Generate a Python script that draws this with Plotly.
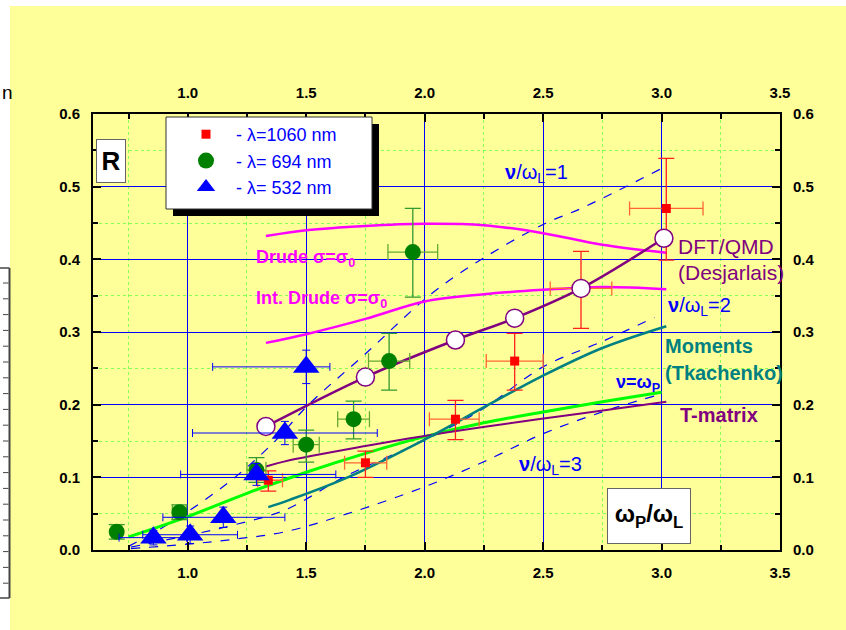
import plotly.graph_objects as go

# ---------------- data ----------------
# experimental reflectivity, lambda = 1060 nm (red squares)
x_1060 = [1.34, 1.75, 2.13, 2.38, 2.66, 3.02]
y_1060 = [0.096, 0.12, 0.18, 0.26, 0.36, 0.47]
xe_1060_p = [0.06, 0.09, 0.10, 0.12, 0.13, 0.155]
xe_1060_m = [0.045, 0.088, 0.11, 0.12, 0.13, 0.155]
ye_1060_p = [0.013, 0.016, 0.026, 0.038, 0.051, 0.069]
ye_1060_m = [0.015, 0.02, 0.028, 0.04, 0.055, 0.071]

# lambda = 694 nm (green circles)
x_694 = [0.70, 0.965, 1.29, 1.50, 1.70, 1.85, 1.95]
y_694 = [0.025, 0.052, 0.11, 0.145, 0.18, 0.26, 0.41]
xe_694 = [0.02, 0.03, 0.04, 0.055, 0.067, 0.087, 0.105]
ye_694_p = [0.01, 0.01, 0.017, 0.02, 0.025, 0.038, 0.06]
ye_694_m = [0.01, 0.01, 0.017, 0.024, 0.027, 0.04, 0.062]

# lambda = 532 nm (blue triangles)
x_532 = [0.855, 1.01, 1.15, 1.29, 1.41, 1.50]
y_532 = [0.017, 0.021, 0.045, 0.104, 0.161, 0.252]
xe_532_p = [0.14, 0.20, 0.26, 0.335, 0.39, 0.10]
xe_532_m = [0.145, 0.20, 0.255, 0.32, 0.39, 0.395]
ye_532 = [0.01, 0.012, 0.014, 0.015, 0.016, 0.023]

# DFT/QMD (Desjarlais)
x_dft = [1.33, 1.75, 2.13, 2.38, 2.66, 3.01]
y_dft = [0.17, 0.238, 0.289, 0.319, 0.36, 0.429]

# Drude sigma = sigma0
x_drude = [1.33, 1.5, 1.75, 2.0, 2.25, 2.5, 2.75, 3.02]
y_drude = [0.432, 0.44, 0.446, 0.449, 0.447, 0.436, 0.42, 0.409]

# Interpolated Drude sigma = sigma0
x_idrude = [1.33, 1.5, 1.75, 2.0, 2.25, 2.5, 2.75, 3.02]
y_idrude = [0.285, 0.297, 0.318, 0.342, 0.352, 0.358, 0.362, 0.359]

# Moments (Tkachenko)
x_mom = [1.34, 1.43, 1.675, 2.0, 2.27, 2.5, 2.75, 3.02]
y_mom = [0.059, 0.069, 0.1, 0.152, 0.2, 0.24, 0.278, 0.308]

# T-matrix
x_tm = [1.33, 1.41, 1.75, 2.0, 2.24, 2.66, 3.02]
y_tm = [0.115, 0.122, 0.143, 0.157, 0.169, 0.188, 0.204]

# nu = omega_P (green line)
x_green = [0.75, 1.0, 1.25, 1.5, 1.75, 2.0, 2.25, 2.5, 2.75, 3.0]
y_green = [0.018, 0.046, 0.078, 0.107, 0.133, 0.156, 0.175, 0.19, 0.204, 0.217]

# nu/omega_L = 1, 2, 3 (dashed)
x_nu1 = [0.75, 0.94, 1.18, 1.36, 1.51, 1.75, 2.03, 2.24, 2.5, 2.66, 3.0]
y_nu1 = [0.005, 0.04, 0.095, 0.147, 0.2, 0.27, 0.353, 0.40, 0.448, 0.47, 0.525]
x_nu2 = [0.76, 1.0, 1.2, 1.41, 1.675, 2.0, 2.24, 2.5, 2.75, 2.97]
y_nu2 = [0.004, 0.02, 0.035, 0.055, 0.103, 0.151, 0.193, 0.252, 0.287, 0.32]
x_nu3 = [0.76, 1.0, 1.2, 1.41, 1.675, 2.0, 2.24, 2.5, 2.75, 2.97]
y_nu3 = [0.002, 0.008, 0.015, 0.025, 0.05, 0.087, 0.12, 0.16, 0.19, 0.212]

x_ticks = [1.0, 1.5, 2.0, 2.5, 3.0, 3.5]
y_ticks = [0.0, 0.1, 0.2, 0.3, 0.4, 0.5, 0.6]

# ---------------- layout helpers ----------------
W, H = 846, 630
ML, MR, MT, MB = 93, 66, 114, 80
PW, PH = W - ML - MR, H - MT - MB


def px(xp):
    return (xp - ML) / PW


def py(yp):
    return (H - MB - yp) / PH


FONT = "Arial, Liberation Sans, sans-serif"
YELLOW = "#FFFF99"
PURPLE = "#800080"
MAGENTA = "#FF00FF"
TEAL = "#008080"
BLUE = "#0000FF"

fig = go.Figure()

# dashed nu/omega_L curves
for xs, ys in [(x_nu1, y_nu1), (x_nu2, y_nu2), (x_nu3, y_nu3)]:
    fig.add_trace(go.Scatter(x=xs, y=ys, mode="lines", showlegend=False,
                             line=dict(color=BLUE, width=1.2, dash="dash", shape="spline")))

fig.add_trace(go.Scatter(x=x_drude, y=y_drude, mode="lines", showlegend=False,
                         line=dict(color=MAGENTA, width=2.5, shape="spline")))
fig.add_trace(go.Scatter(x=x_idrude, y=y_idrude, mode="lines", showlegend=False,
                         line=dict(color=MAGENTA, width=2.5, shape="spline")))
fig.add_trace(go.Scatter(x=x_green, y=y_green, mode="lines", showlegend=False,
                         line=dict(color="#00FF00", width=3, shape="spline")))
fig.add_trace(go.Scatter(x=x_tm, y=y_tm, mode="lines", showlegend=False,
                         line=dict(color=PURPLE, width=2, shape="spline")))
fig.add_trace(go.Scatter(x=x_mom, y=y_mom, mode="lines", showlegend=False,
                         line=dict(color=TEAL, width=2.5, shape="spline")))

# red squares
fig.add_trace(go.Scatter(
    x=x_1060, y=y_1060, mode="markers", name="- \u03bb=1060 nm", legendrank=1,
    marker=dict(symbol="square", size=9, color="#FF0000"),
    error_x=dict(type="data", array=xe_1060_p, arrayminus=xe_1060_m, color="#FF6633", thickness=1.3, width=7),
    error_y=dict(type="data", array=ye_1060_p, arrayminus=ye_1060_m, color="#FF2020", thickness=1.3, width=8),
))

# DFT line + white circles
fig.add_trace(go.Scatter(
    x=x_dft, y=y_dft, mode="lines+markers", showlegend=False,
    line=dict(color=PURPLE, width=2.5, shape="spline"),
    marker=dict(symbol="circle", size=18, color="white", line=dict(color=PURPLE, width=1.5)),
))

# green circles
fig.add_trace(go.Scatter(
    x=x_694, y=y_694, mode="markers", name="- \u03bb= 694 nm", legendrank=2,
    marker=dict(symbol="circle", size=16, color="#008000"),
    error_x=dict(type="data", array=xe_694, color="#66AA33", thickness=1.3, width=8),
    error_y=dict(type="data", array=ye_694_p, arrayminus=ye_694_m, color="#339933", thickness=1.3, width=8),
))

# blue triangles
fig.add_trace(go.Scatter(
    x=x_532, y=y_532, mode="markers", name="- \u03bb= 532 nm", legendrank=3,
    marker=dict(symbol="triangle-up", size=23, color=BLUE),
    error_x=dict(type="data", array=xe_532_p, arrayminus=xe_532_m, color=BLUE, thickness=1, width=4),
    error_y=dict(type="data", array=ye_532, color=BLUE, thickness=1, width=4),
))

# empty trace to activate top/right mirror axes
fig.add_trace(go.Scatter(x=[], y=[], xaxis="x2", yaxis="y2", showlegend=False, hoverinfo="skip"))

tickfont = dict(family=FONT, size=15, color="black", weight="bold")
common = dict(showline=True, linecolor="black", linewidth=2, ticks="inside", ticklen=8,
              tickcolor="black", tickwidth=2, tickfont=tickfont, zeroline=False,
              ticklabelstandoff=8)

fig.update_layout(
    width=W, height=H,
    margin=dict(l=ML, r=MR, t=MT, b=MB, pad=0),
    paper_bgcolor="white",
    plot_bgcolor=YELLOW,
    showlegend=True,
    legend=dict(x=px(176), y=py(116), xanchor="left", yanchor="top", itemwidth=50,
                bgcolor="rgba(0,0,0,0)", borderwidth=0,
                font=dict(family=FONT, size=18, color=BLUE), tracegroupgap=0),
    xaxis=dict(range=[0.6, 3.5], tickmode="array", tickvals=x_ticks, tickformat=".1f",
               showgrid=True, gridcolor=BLUE, gridwidth=1,
               minor=dict(dtick=0.25, tick0=0.75, ticks="inside", ticklen=5, tickcolor="black",
                          tickwidth=2, showgrid=True, gridcolor="#88FF55", griddash="dot", gridwidth=1),
               **common),
    yaxis=dict(range=[0, 0.6], tickmode="array", tickvals=y_ticks, tickformat=".1f",
               showgrid=True, gridcolor=BLUE, gridwidth=1,
               minor=dict(dtick=0.05, tick0=0, ticks="inside", ticklen=5, tickcolor="black",
                          tickwidth=2, showgrid=True, gridcolor="#88FF55", griddash="dot", gridwidth=1),
               **common),
    xaxis2=dict(overlaying="x", side="top", matches="x", range=[0.6, 3.5], tickmode="array",
                tickvals=x_ticks, tickformat=".1f", showgrid=False,
                minor=dict(dtick=0.25, tick0=0.75, ticks="inside", ticklen=5, tickcolor="black", tickwidth=2),
                **common),
    yaxis2=dict(overlaying="y", side="right", matches="y", range=[0, 0.6], tickmode="array",
                tickvals=y_ticks, tickformat=".1f", showgrid=False,
                minor=dict(dtick=0.05, tick0=0, ticks="inside", ticklen=5, tickcolor="black", tickwidth=2),
                **common),
)

shapes = []
# yellow page background
shapes.append(dict(type="rect", xref="paper", yref="paper", x0=px(10), x1=px(W + 2), y0=py(H + 2), y1=py(6),
                   fillcolor=YELLOW, line=dict(width=0), layer="below"))
# cropped neighbouring panel at the far left
shapes.append(dict(type="line", xref="paper", yref="paper", x0=px(9.5), x1=px(9.5), y0=py(268), y1=py(598),
                   line=dict(color="#444444", width=2)))
shapes.append(dict(type="line", xref="paper", yref="paper", x0=px(0), x1=px(9.5), y0=py(268), y1=py(268),
                   line=dict(color="#444444", width=1.5)))
shapes.append(dict(type="line", xref="paper", yref="paper", x0=px(0), x1=px(9.5), y0=py(598), y1=py(598),
                   line=dict(color="#444444", width=1.5)))
for i in range(20):
    yy = 283 + i * 15.8
    shapes.append(dict(type="line", xref="paper", yref="paper", x0=px(3), x1=px(8.5), y0=py(yy), y1=py(yy),
                       line=dict(color="#444444", width=1)))
# legend box with shadow
shapes.append(dict(type="rect", xref="paper", yref="paper", x0=px(173), x1=px(379), y0=py(216), y1=py(124),
                   fillcolor="black", line=dict(width=0), layer="above"))
shapes.append(dict(type="rect", xref="paper", yref="paper", x0=px(166), x1=px(372), y0=py(209), y1=py(117),
                   fillcolor="white", line=dict(color="#333333", width=1), layer="above"))
fig.update_layout(shapes=shapes)

ann = []
# left cropped text
ann.append(dict(xref="paper", yref="paper", x=px(0), y=py(93), xanchor="left", yanchor="middle",
                text="n", showarrow=False, font=dict(family=FONT, size=19, color="black")))
# R box
ann.append(dict(xref="paper", yref="paper", x=px(111), y=py(161), xanchor="center", yanchor="middle",
                text="<b>R</b>", showarrow=False,
                font=dict(family=FONT, size=26, color="black"), bgcolor="white",
                bordercolor="#666666", borderwidth=1, width=26, height=40))
# omega_P / omega_L box
ann.append(dict(xref="paper", yref="paper", x=px(648.5), y=py(515.5), xanchor="center", yanchor="middle",
                text="<b>\u03c9<sub>P</sub>/\u03c9<sub>L</sub></b>", showarrow=False,
                font=dict(family=FONT, size=24, color="black"), bgcolor="white",
                bordercolor="#666666", borderwidth=1, width=80, height=52))


def label(x, y, text, color, size, anchor="left"):
    ann.append(dict(xref="x", yref="y", x=x, y=y, text=text, showarrow=False, xanchor=anchor,
                    yanchor="middle", font=dict(family=FONT, size=size, color=color)))


label(1.28, 0.401, "<b>Drude \u03c3=\u03c3<sub>0</sub></b>", MAGENTA, 18)
label(1.28, 0.345, "<b>Int. Drude \u03c3=\u03c3<sub>0</sub></b>", MAGENTA, 18)
label(2.33, 0.518, "<b>\u03bd</b>/\u03c9<sub>L</sub>=1", BLUE, 20)
label(3.06, 0.418, "DFT/QMD", PURPLE, 21)
label(3.06, 0.382, "(Desjarlais)", PURPLE, 21)
label(3.02, 0.335, "<b>\u03bd</b>/\u03c9<sub>L</sub>=2", BLUE, 20)
label(3.005, 0.281, "<b>Moments</b>", TEAL, 20)
label(3.005, 0.244, "<b>(Tkachenko)</b>", TEAL, 20)
label(2.8, 0.229, "<b>\u03bd=\u03c9<sub>P</sub></b>", BLUE, 18)
label(3.07, 0.186, "<b>T-matrix</b>", PURPLE, 20)
label(2.39, 0.116, "<b>\u03bd</b>/\u03c9<sub>L</sub>=3", BLUE, 20)
fig.update_layout(annotations=ann)

fig.write_html("out.html")
